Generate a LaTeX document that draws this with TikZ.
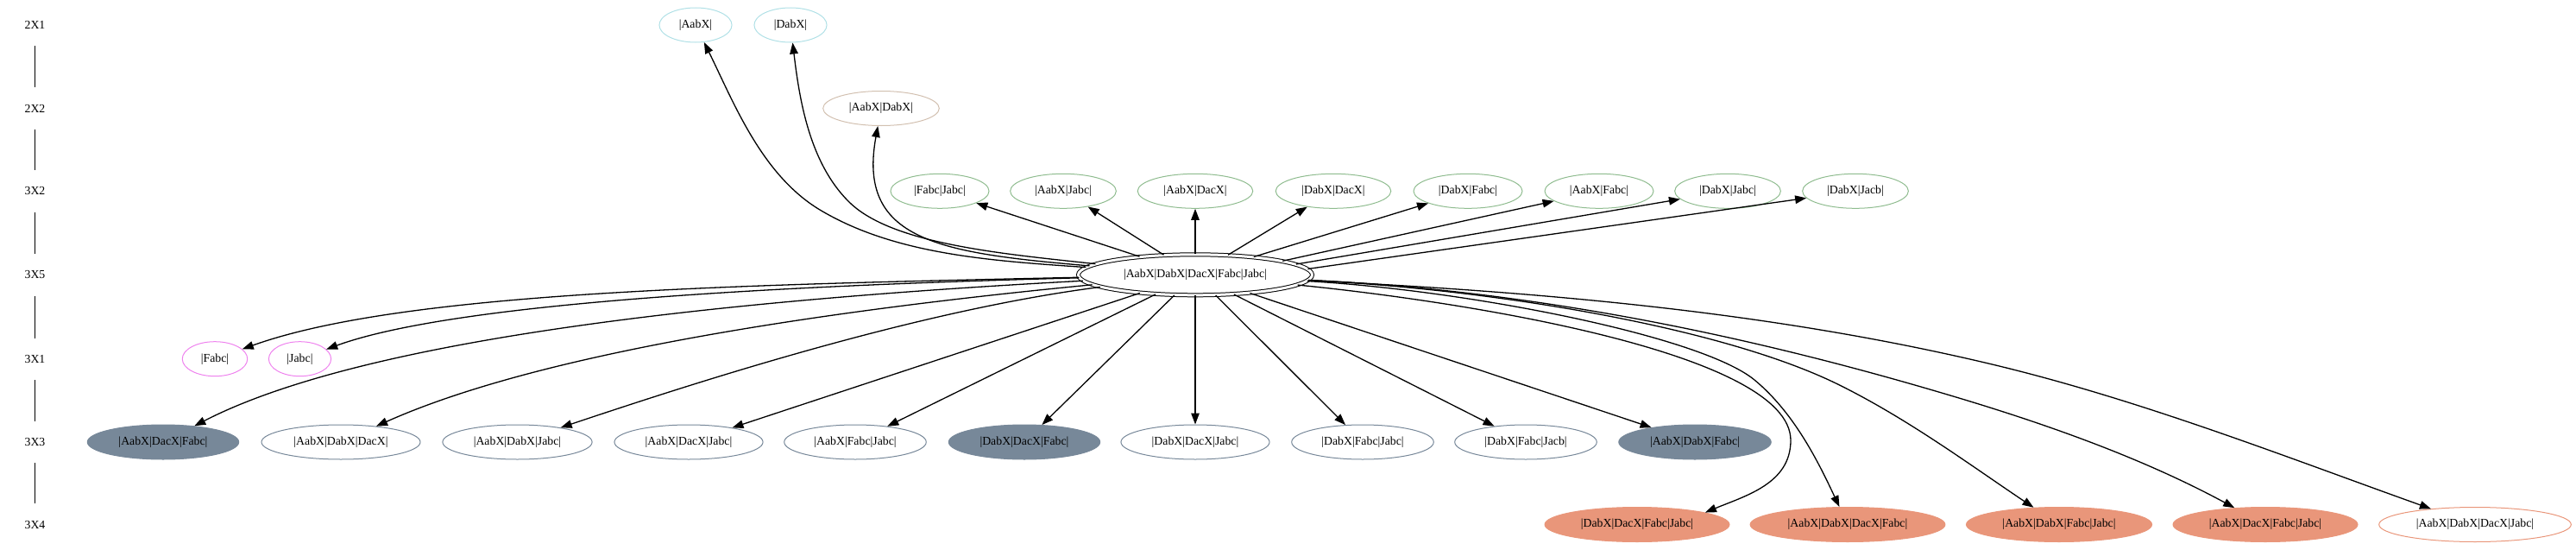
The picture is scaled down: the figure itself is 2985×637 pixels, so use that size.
\documentclass[tikz,border=0pt]{standalone}
\usepackage{fontspec}
\setmainfont{Liberation Serif}
\usetikzlibrary{shapes.geometric,arrows.meta}
\definecolor{cyanb}{HTML}{B0E0E6}
\definecolor{tanb}{HTML}{D2C0B0}
\definecolor{greenb}{HTML}{8FBC8F}
\definecolor{violetb}{HTML}{EE82EE}
\definecolor{slateb}{HTML}{778899}
\definecolor{salmonb}{HTML}{E9967A}
\newcommand{\fsz}{\fontsize{13.8}{16}\selectfont}
\begin{document}
\begin{tikzpicture}[x=1pt,y=-1pt,
  gnode/.style={ellipse, draw, line width=1pt, inner xsep=10.5pt, inner ysep=1pt, minimum height=40pt, font=\fsz},
  cyannode/.style={gnode, draw=cyanb},
  tannode/.style={gnode, draw=tanb},
  greennode/.style={gnode, draw=greenb},
  violetnode/.style={gnode, draw=violetb},
  slatenode/.style={gnode, draw=slateb},
  slatefill/.style={gnode, draw=slateb, fill=slateb},
  salmonfill/.style={gnode, draw=salmonb, fill=salmonb},
  salmonnode/.style={gnode, draw=salmonb},
  centernode/.style={ellipse, draw, line width=1pt, double, double distance=3pt, minimum width=271pt, minimum height=47pt, inner sep=0pt, font=\fsz},
  rlabel/.style={inner sep=0pt, minimum height=48pt, font=\fsz},
  rline/.style={draw=black, line width=0.9pt},
  conn/.style={draw=black, line width=1.3pt, -{Triangle[length=13pt,width=9.5pt]}}
]
\useasboundingbox (0,0) rectangle (2985,637);

% rank labels
\node[rlabel] (r1) at (40.5,29) {2X1};
\node[rlabel] (r2) at (40.5,125.5) {2X2};
\node[rlabel] (r3) at (40.5,221.3) {3X2};
\node[rlabel] (r4) at (40.5,318.3) {3X5};
\node[rlabel] (r5) at (40.5,415.7) {3X1};
\node[rlabel] (r6) at (40.5,512) {3X3};
\node[rlabel] (r7) at (40.5,607.5) {3X4};
\draw[rline] (r1) -- (r2);
\draw[rline] (r2) -- (r3);
\draw[rline] (r3) -- (r4);
\draw[rline] (r4) -- (r5);
\draw[rline] (r5) -- (r6);
\draw[rline] (r6) -- (r7);

% 2X1
\node[cyannode] (a1) at (806,29) {|AabX|};
\node[cyannode] (a2) at (916,29) {|DabX|};
% 2X2
\node[tannode] (b1) at (1021,125.5) {|AabX|DabX|};
% 3X2
\node[greennode] (c1) at (1089,221.3) {|Fabc|Jabc|};
\node[greennode] (c2) at (1232,221.3) {|AabX|Jabc|};
\node[greennode] (c3) at (1385,221.3) {|AabX|DacX|};
\node[greennode] (c4) at (1545,221.3) {|DabX|DacX|};
\node[greennode] (c5) at (1701,221.3) {|DabX|Fabc|};
\node[greennode] (c6) at (1853,221.3) {|AabX|Fabc|};
\node[greennode] (c7) at (2002,221.3) {|DabX|Jabc|};
\node[greennode] (c8) at (2150,221.3) {|DabX|Jacb|};
% 3X5
\node[centernode] (C) at (1385,318.3) {|AabX|DabX|DacX|Fabc|Jabc|};
% 3X1
\node[violetnode] (d1) at (249,415.7) {|Fabc|};
\node[violetnode] (d2) at (347.5,415.7) {|Jabc|};
% 3X3
\node[slatefill] (e1) at (189,512) {|AabX|DacX|Fabc|};
\node[slatenode] (e2) at (395,512) {|AabX|DabX|DacX|};
\node[slatenode] (e3) at (599.5,512) {|AabX|DabX|Jabc|};
\node[slatenode] (e4) at (798,512) {|AabX|DacX|Jabc|};
\node[slatenode] (e5) at (991,512) {|AabX|Fabc|Jabc|};
\node[slatefill] (e6) at (1187,512) {|DabX|DacX|Fabc|};
\node[slatenode] (e7) at (1385,512) {|DabX|DacX|Jabc|};
\node[slatenode] (e8) at (1579,512) {|DabX|Fabc|Jabc|};
\node[slatenode] (e9) at (1768,512) {|DabX|Fabc|Jacb|};
\node[slatefill] (e10) at (1964,512) {|AabX|DabX|Fabc|};
% 3X4
\node[salmonfill] (f1) at (1897,607.5) {|DabX|DacX|Fabc|Jabc|};
\node[salmonfill] (f2) at (2141,607.5) {|AabX|DabX|DacX|Fabc|};
\node[salmonfill] (f3) at (2386,607.5) {|AabX|DabX|Fabc|Jabc|};
\node[salmonfill] (f4) at (2625,607.5) {|AabX|DacX|Fabc|Jabc|};
\node[salmonnode] (f5) at (2868,607.5) {|AabX|DabX|DacX|Jabc|};

% edges up-left
\draw[conn] (C) .. controls (1148,302) and (1037,295) .. (950,243) .. controls (882,202) and (850,118) .. (a1);
\draw[conn] (C) .. controls (1163,294) and (1032,283) .. (983,233) .. controls (937,187) and (926,112) .. (a2);
\draw[conn] (C) .. controls (1087,293) and (993,278.5) .. (b1);
% edges to 3X2
\draw[conn] (C) -- (c1);
\draw[conn] (C) -- (c2);
\draw[conn] (C) -- (c3);
\draw[conn] (C) -- (c4);
\draw[conn] (C) -- (c5);
\draw[conn] (C.9) -- (c6);
\draw[conn] (C.6) -- (c7);
\draw[conn] (C.3) -- (c8);
% edges to 3X1
\draw[conn] (C) .. controls (848,330) and (466,338) .. (d1);
\draw[conn] (C) .. controls (898,331) and (525,351) .. (d2);
% edges to 3X3
\draw[conn] (C) .. controls (800,349.5) and (412,397) .. (e1);
\draw[conn] (C) .. controls (952,360) and (625,409) .. (e2);
\draw[conn] (C) .. controls (1060,360) and (800,445) .. (e3);
\draw[conn] (C) -- (e4);
\draw[conn] (C) -- (e5);
\draw[conn] (C) -- (e6);
\draw[conn] (C) -- (e7);
\draw[conn] (C) -- (e8);
\draw[conn] (C) -- (e9);
\draw[conn] (C) -- (e10);
% edges to 3X4
\draw[conn] (C) .. controls (1705,350) and (2075,410) .. (2075,510) .. controls (2075,560) and (2023,574) .. (f1.10);
\draw[conn] (C) .. controls (1700,336) and (1971,389) .. (2033,440) .. controls (2079,478) and (2107,535) .. (f2);
\draw[conn] (C) .. controls (1732,335) and (1999,379.5) .. (2133,446.7) .. controls (2213,486.6) and (2285,540) .. (f3);
\draw[conn] (C) .. controls (1812,338) and (2075,402.6) .. (2266.7,460) .. controls (2377,493) and (2486,532.3) .. (f4);
\draw[conn] (C) .. controls (1781,338) and (2045,360) .. (2300,420) .. controls (2477,461.5) and (2648,529) .. (f5);
\end{tikzpicture}
\end{document}
